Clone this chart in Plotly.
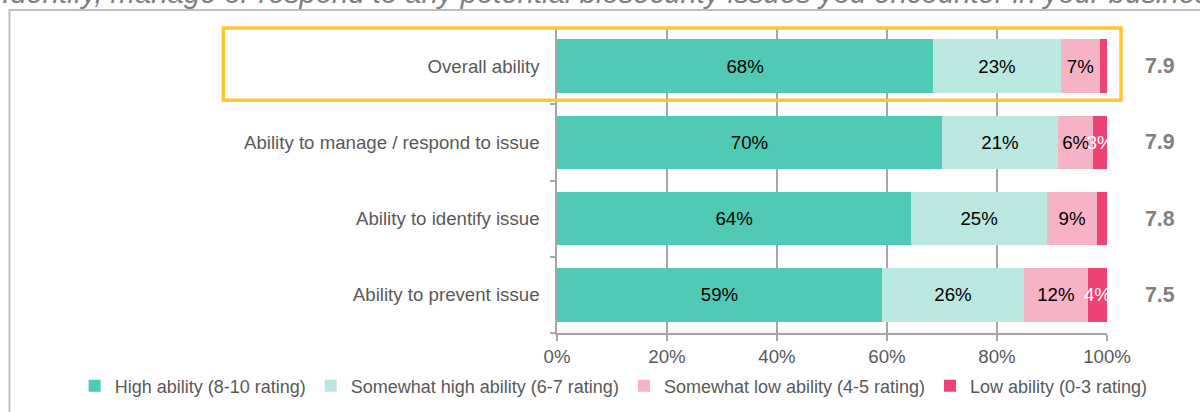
import plotly.graph_objects as go

# ── Data ───────────────────────────────────────────────────────────────────────
categories = [
    "Overall ability",
    "Ability to manage / respond to issue",
    "Ability to identify issue",
    "Ability to prevent issue",
]
high          = [68.4, 70.0, 64.4, 59.1]
somewhat_high = [23.2, 21.1, 24.7, 25.8]
somewhat_low  = [7.1, 6.4, 9.1, 11.6]
low           = [1.3, 2.5, 1.8, 3.5]

high_labels          = ["68%", "70%", "64%", "59%"]
somewhat_high_labels = ["23%", "21%", "25%", "26%"]
somewhat_low_labels  = ["7%", "6%", "9%", "12%"]
low_labels           = ["", "3%", "", "4%"]

mean_scores = ["7.9", "7.9", "7.8", "7.5"]

series_names = [
    "High ability (8-10 rating)",
    "Somewhat high ability (6-7 rating)",
    "Somewhat low ability (4-5 rating)",
    "Low ability (0-3 rating)",
]

title_text = ("Identify, manage or respond to any potential biosecurity issues "
              "you encounter in your business")

# ── Style ──────────────────────────────────────────────────────────────────────
_COLORS = ["#50C9B5", "#BAE8E0", "#F6B3C6", "#EC4373"]
_TEXT_COLORS = ["black", "black", "black", "white"]
_GREY = "#595959"
_FONT = "Liberation Sans, Arial, sans-serif"
_FS = 18.67  # 14pt

fig = go.Figure()

for name, vals, labels, color, tcolor in zip(
        series_names,
        [high, somewhat_high, somewhat_low, low],
        [high_labels, somewhat_high_labels, somewhat_low_labels, low_labels],
        _COLORS, _TEXT_COLORS):
    fig.add_trace(go.Bar(
        y=categories, x=vals, name=name, orientation="h",
        marker=dict(color=color, line=dict(width=0)),
        text=labels, textposition="inside", insidetextanchor="middle",
        constraintext="none", textangle=0, cliponaxis=False,
        textfont=dict(color=tcolor, size=_FS, family=_FONT),
        width=0.7,
    ))

# mean scores on the right
for cat, score in zip(categories, mean_scores):
    fig.add_annotation(
        x=1.127, xref="paper", y=cat, yref="y", text=f"<b>{score}</b>",
        showarrow=False, font=dict(size=21.3, color="#808080", family=_FONT),
    )

# cropped title at the very top
fig.add_annotation(
    x=-1.0127, xref="paper", xanchor="left",
    y=1.115, yref="paper", yanchor="middle",
    text=f"<i>{title_text}</i>", showarrow=False,
    font=dict(size=29.3, color="#7f7f7f", family=_FONT),
)

# outer grey frame
fig.add_shape(type="rect", xref="paper", yref="paper",
              x0=-0.9955, x1=2.0, y0=-1.0, y1=1.059,
              line=dict(color="#BFBFBF", width=2), layer="below")

# yellow highlight round "Overall ability"
fig.add_shape(type="rect", xref="paper", yref="paper",
              x0=-0.6065, x1=1.0255, y0=0.763, y1=1.0,
              line=dict(color="#FCC831", width=3.5))

fig.update_layout(
    width=1200, height=412,
    paper_bgcolor="white", plot_bgcolor="white",
    barmode="stack", bargap=0.3,
    margin=dict(l=557, r=93, t=28, b=79, autoexpand=False),
    font=dict(family=_FONT, size=_FS, color=_GREY),
    showlegend=True,
    legend=dict(orientation="h", x=-0.877, xanchor="left",
                y=-0.174, yanchor="middle",
                font=dict(size=18, color=_GREY), traceorder="normal",
                itemwidth=30, tracegroupgap=0),
    uniformtext=dict(mode=False),
)
fig.update_xaxes(
    range=[0, 100], tickvals=[0, 20, 40, 60, 80, 100],
    ticktext=["0%", "20%", "40%", "60%", "80%", "100%"],
    showgrid=True, gridcolor="#A6A6A6", gridwidth=1.5,
    showline=True, linecolor="#A6A6A6", linewidth=1.5,
    ticks="outside", ticklen=6, tickcolor="#A6A6A6", tickwidth=1.5,
    tickfont=dict(size=_FS, color=_GREY), zeroline=False, fixedrange=True,
)
fig.update_yaxes(
    categoryorder="array", categoryarray=categories[::-1],
    showline=True, linecolor="#A6A6A6", linewidth=1.5,
    ticks="outside", ticklen=5, tickcolor="#A6A6A6", tickwidth=1.5,
    tickson="boundaries", ticklabelstandoff=12,
    tickfont=dict(size=_FS, color=_GREY), showgrid=False,
)

fig.write_html("out.html", config={"displayModeBar": False},
               post_script="document.body.style.margin='0';")
